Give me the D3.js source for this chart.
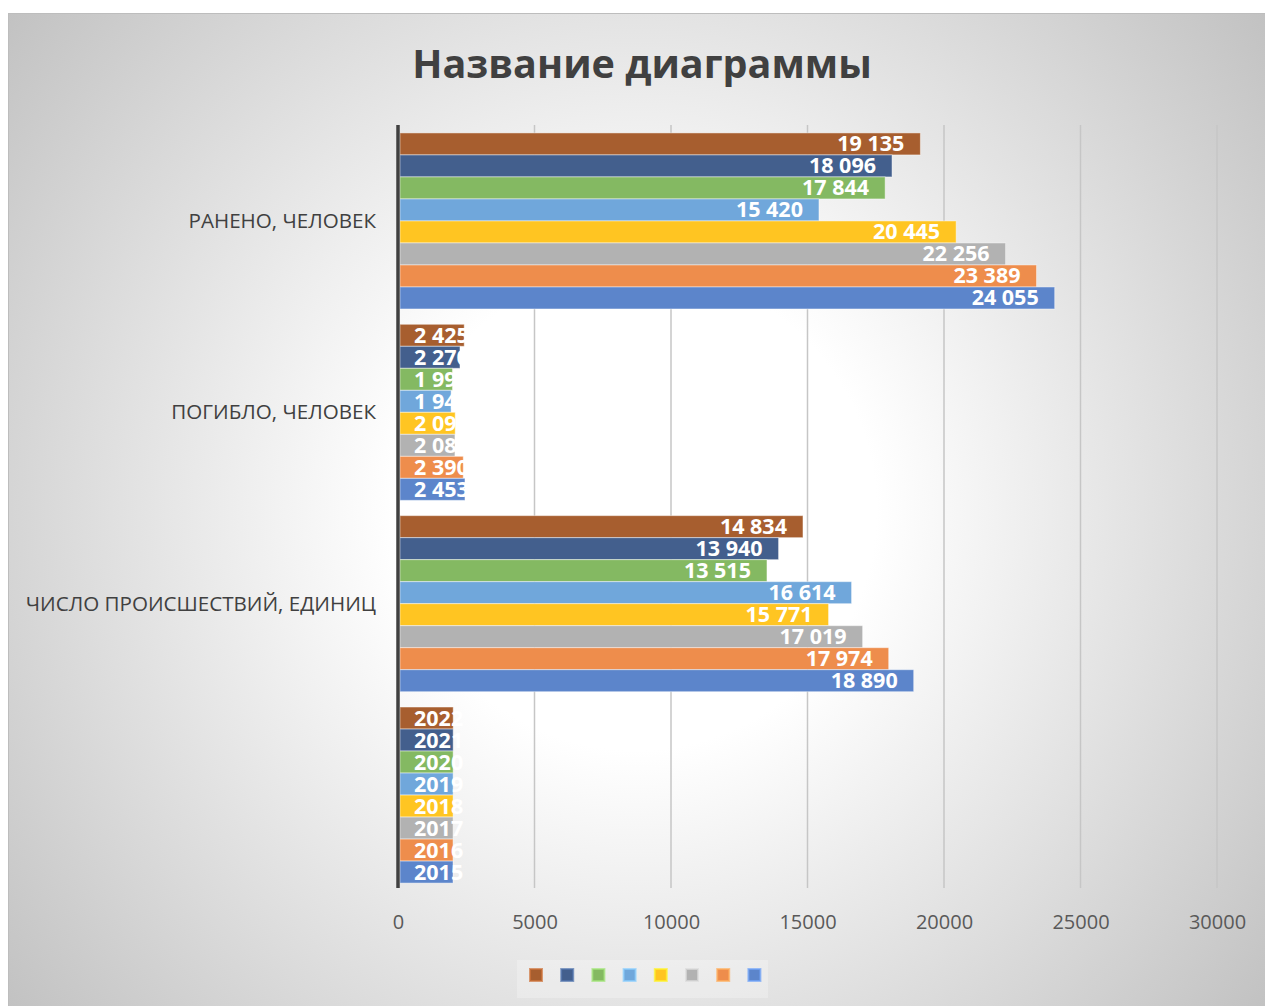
<!DOCTYPE html>
<html lang="ru">
<head>
<meta charset="UTF-8">
<title>Название диаграммы</title>
<script src="https://cdn.jsdelivr.net/npm/d3@7/dist/d3.min.js"></script>
<style>
  body { margin: 0; background: #fff; }
  svg { display: block; font-family: "Open Sans", sans-serif; }
</style>
</head>
<body>
<div id="chart"></div>
<script>
// data
const categories = ["РАНЕНО, ЧЕЛОВЕК", "ПОГИБЛО, ЧЕЛОВЕК", "ЧИСЛО ПРОИСШЕСТВИЙ, ЕДИНИЦ", ""];
const years = ["2022", "2021", "2020", "2019", "2018", "2017", "2016", "2015"];
const raneno = [19135, 18096, 17844, 15420, 20445, 22256, 23389, 24055];
const pogiblo = [2425, 2270, 1995, 1945, 2095, 2085, 2390, 2453];
const proisshestviy = [14834, 13940, 13515, 16614, 15771, 17019, 17974, 18890];
const godValues = [2022, 2021, 2020, 2019, 2018, 2017, 2016, 2015];
const xTicks = [0, 5000, 10000, 15000, 20000, 25000, 30000];
const colors = ["#a75e2f", "#435f8d", "#84b962", "#70a7db", "#ffc522", "#b2b2b2", "#ee8d4c", "#5c85cb"];

const rows = [raneno, pogiblo, proisshestviy, godValues];

const W = 1265, H = 1006;
const plot = { left: 398, right: 1217, top: 125, bottom: 888 };

const svg = d3.select("#chart").append("svg")
  .attr("width", W)
  .attr("height", H);

// background
const defs = svg.append("defs");
const grad = defs.append("radialGradient")
  .attr("id", "bg")
  .attr("gradientUnits", "userSpaceOnUse")
  .attr("cx", 636).attr("cy", 510).attr("r", 800);
grad.append("stop").attr("offset", 0.3).attr("stop-color", "#ffffff");
grad.append("stop").attr("offset", 1).attr("stop-color", "#c2c2c2");

svg.append("rect")
  .attr("x", 8.5).attr("y", 13.5)
  .attr("width", W - 8).attr("height", H - 13)
  .attr("fill", "url(#bg)")
  .attr("stroke", "#bdbdbd");

// title
svg.append("text")
  .attr("x", 642).attr("y", 78)
  .attr("text-anchor", "middle")
  .attr("font-size", 39.5)
  .attr("font-weight", 700)
  .attr("fill", "#404040")
  .text("Название диаграммы");

// scales
const x = d3.scaleLinear().domain([0, 30000]).range([plot.left, plot.right]);
const y0 = d3.scaleBand().domain(categories.map((c, i) => i)).range([124.5, 891.5]).paddingInner(0.08).paddingOuter(0.044);
const y1 = d3.scaleBand().domain(years).range([0, y0.bandwidth()]);

// grid
svg.append("g")
  .selectAll("line")
  .data(xTicks.slice(1))
  .join("line")
  .attr("x1", d => x(d)).attr("x2", d => x(d))
  .attr("y1", plot.top).attr("y2", plot.bottom)
  .attr("stroke", "#c6c6c6")
  .attr("stroke-width", 1.5);

// x axis labels
const xAxis = svg.append("g")
  .attr("transform", `translate(0,${plot.bottom})`)
  .call(d3.axisBottom(x).tickValues(xTicks).tickFormat(d3.format("d")).tickSize(0).tickPadding(0));
xAxis.select(".domain").remove();
xAxis.selectAll("text")
  .attr("y", 41)
  .attr("dy", 0)
  .attr("font-family", "Open Sans, sans-serif")
  .attr("font-size", 20)
  .attr("fill", "#595959");

// category labels
svg.append("g")
  .selectAll("text")
  .data(categories)
  .join("text")
  .attr("x", 376)
  .attr("y", (d, i) => y0(i) + y0.bandwidth() / 2 + 7)
  .attr("text-anchor", "end")
  .attr("font-size", 20.6)
  .attr("fill", "#404040")
  .text(d => d);

// bars
const fmt = v => d3.format(",")(v).replace(/,/g, " ");
const groups = svg.append("g")
  .selectAll("g")
  .data(rows)
  .join("g")
  .attr("transform", (d, i) => `translate(0,${y0(i)})`);

groups.selectAll("rect")
  .data(d => d.map((v, j) => ({ v, j })))
  .join("rect")
  .attr("x", x(0) + 2)
  .attr("y", d => y1(years[d.j]))
  .attr("width", d => x(d.v) - x(0) - 2)
  .attr("height", y1.bandwidth())
  .attr("fill", d => colors[d.j])
  .attr("stroke", "rgba(255,255,255,0.45)")
  .attr("stroke-width", 1);

groups.each(function (row, i) {
  const g = d3.select(this);
  row.forEach((v, j) => {
    const t = g.append("text")
      .attr("y", y1(years[j]) + y1.bandwidth() / 2 + 7.5)
      .attr("text-anchor", "end")
      .attr("font-size", 21.5)
      .attr("font-weight", 700)
      .attr("fill", "#ffffff")
      .text(i === 3 ? String(v) : fmt(v));
    const w = t.node().getComputedTextLength();
    t.attr("x", Math.max(x(v) - 16, x(0) + 16 + w));
  });
});

// left axis line
svg.append("line")
  .attr("x1", x(0)).attr("x2", x(0))
  .attr("y1", plot.top).attr("y2", plot.bottom)
  .attr("stroke", "#404040")
  .attr("stroke-width", 3.5);

// legend (series have no names)
const lg = svg.append("g");
lg.append("rect")
  .attr("x", 517).attr("y", 960).attr("width", 251).attr("height", 38)
  .attr("fill", "#ffffff").attr("opacity", 0.25);
lg.selectAll("rect.sw")
  .data(colors)
  .join("rect")
  .attr("class", "sw")
  .attr("x", (d, i) => 530 + i * 31.2)
  .attr("y", 969)
  .attr("width", 12).attr("height", 12)
  .attr("fill", d => d)
  .attr("stroke", d => d3.color(d).brighter(0.6))
  .attr("stroke-opacity", 0.7)
  .attr("stroke-width", 2);
</script>
</body>
</html>
